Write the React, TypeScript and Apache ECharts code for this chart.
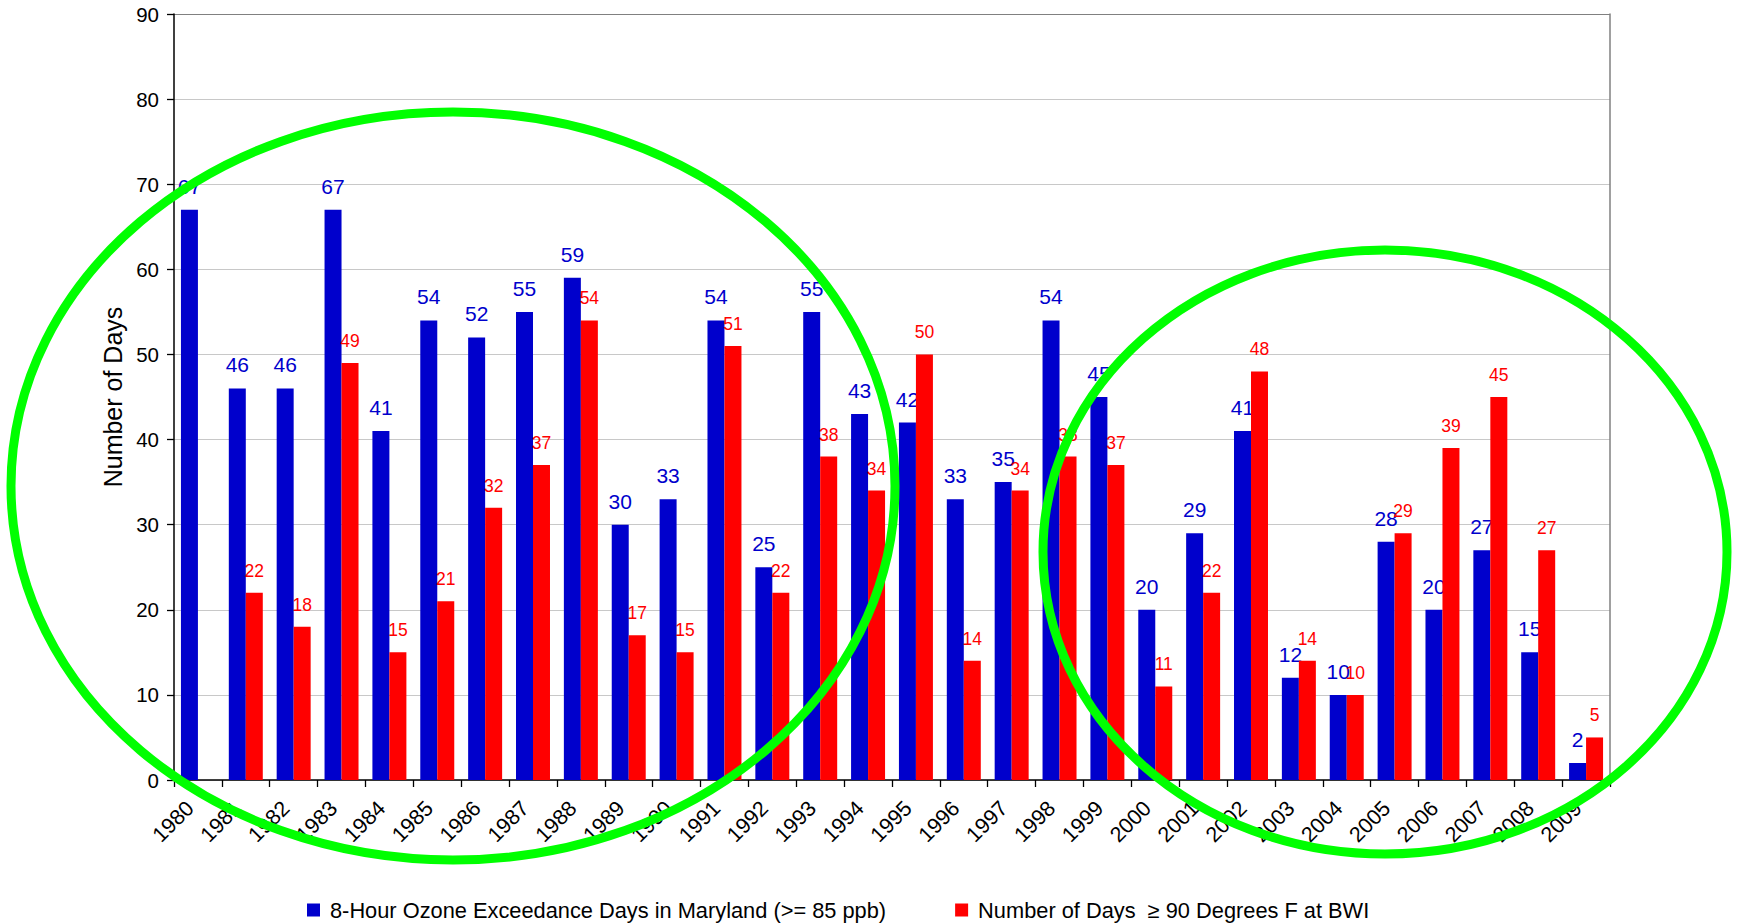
import React, { useEffect, useRef } from "react";
import * as echarts from "echarts";

const years = [
  "1980", "1981", "1982", "1983", "1984", "1985", "1986", "1987", "1988", "1989",
  "1990", "1991", "1992", "1993", "1994", "1995", "1996", "1997", "1998", "1999",
  "2000", "2001", "2002", "2003", "2004", "2005", "2006", "2007", "2008", "2009",
];
const ozoneDays = [67, 46, 46, 67, 41, 54, 52, 55, 59, 30, 33, 54, 25, 55, 43, 42, 33, 35, 54, 45, 20, 29, 41, 12, 10, 28, 20, 27, 15, 2];
const hotDays = [null, 22, 18, 49, 15, 21, 32, 37, 54, 17, 15, 51, 22, 38, 34, 50, 14, 34, 38, 37, 11, 22, 48, 14, 10, 29, 39, 45, 27, 5];
const ozoneName = "8-Hour Ozone Exceedance Days in Maryland (>= 85 ppb)";
const hotName = "Number of Days  \u2265 90 Degrees F at BWI";
const yAxisTitle = "Number of Days";
const yMin = 0;
const yMax = 90;
const yStep = 10;

const FONT = 'Arial, "Liberation Sans", sans-serif';

export default function App() {
  const ref = useRef<HTMLDivElement>(null);
  useEffect(() => {
    if (!ref.current) return;
    const chart = echarts.init(ref.current, undefined, { renderer: "svg" });
    const splitColors: string[] = [];
    for (let v = yMin; v <= yMax; v += yStep) splitColors.push(v === yMax ? "#808080" : "#C8C8C8");
    chart.setOption({
      animation: false,
      backgroundColor: "#ffffff",
      textStyle: { fontFamily: FONT },
      grid: { left: 174, right: 128, top: 14, bottom: 144, containLabel: false },
      legend: {
        left: 307,
        top: 899,
        padding: 0,
        icon: "rect",
        itemWidth: 13,
        itemHeight: 13,
        itemGap: 69,
        textStyle: { fontSize: 21.8, lineHeight: 22, color: "#000", fontFamily: FONT, padding: [0, 0, 0, 5] },
        data: [ozoneName, hotName],
      },
      xAxis: {
        type: "category",
        data: years,
        boundaryGap: true,
        axisLine: { show: true, lineStyle: { color: "#000", width: 1.5 } },
        axisTick: { show: true, inside: false, length: 7, alignWithLabel: false, interval: 0, lineStyle: { color: "#000", width: 1.3 } },
        axisLabel: { rotate: 45, interval: 0, fontSize: 21.5, color: "#000", margin: 17, padding: [0, 11, 0, 0], fontFamily: FONT },
        splitLine: { show: false },
      },
      yAxis: [
        {
          type: "value",
          min: yMin,
          max: yMax,
          interval: yStep,
          name: yAxisTitle,
          nameLocation: "middle",
          nameGap: 26,
          nameRotate: 90,
          nameTextStyle: { fontSize: 25, color: "#000", fontFamily: FONT },
          axisLine: { show: true, lineStyle: { color: "#000", width: 1.5 } },
          axisTick: { show: true, inside: false, length: 7, lineStyle: { color: "#000", width: 1.3 } },
          axisLabel: { fontSize: 20.5, color: "#000", margin: 15, fontFamily: FONT },
          splitLine: { show: true, lineStyle: { color: splitColors, width: 1.2 } },
        },
        {
          type: "value",
          position: "right",
          min: yMin,
          max: yMax,
          interval: yStep,
          axisLine: { show: true, lineStyle: { color: "#808080", width: 1.5 } },
          axisTick: { show: false },
          axisLabel: { show: false },
          splitLine: { show: false },
        },
      ],
      series: [
        {
          name: ozoneName,
          type: "bar",
          data: ozoneDays,
          barGap: "0%",
          barCategoryGap: "29%",
          itemStyle: { color: "#0000CC" },
          label: { show: true, position: "top", distance: 13, color: "#0000CC", fontSize: 21, fontFamily: FONT },
          z: 2,
        },
        {
          name: hotName,
          type: "bar",
          data: hotDays,
          barGap: "0%",
          barCategoryGap: "29%",
          itemStyle: { color: "#FF0000" },
          label: { show: true, position: "top", distance: 13, color: "#FF0000", fontSize: 17.5, fontFamily: FONT },
          z: 3,
        },
      ],
      graphic: [
        {
          type: "ellipse",
          shape: { cx: 453, cy: 486, rx: 442, ry: 374 },
          style: { fill: "none", stroke: "#00FF00", lineWidth: 9 },
          z: 100,
          silent: true,
        },
        {
          type: "ellipse",
          shape: { cx: 1385, cy: 552, rx: 342, ry: 302 },
          style: { fill: "none", stroke: "#00FF00", lineWidth: 9 },
          z: 100,
          silent: true,
        },
      ],
    });
    return () => chart.dispose();
  }, []);
  return (
    <div
      ref={ref}
      style={{ position: "absolute", left: 0, top: 0, width: 1738, height: 924, background: "#fff" }}
    />
  );
}
